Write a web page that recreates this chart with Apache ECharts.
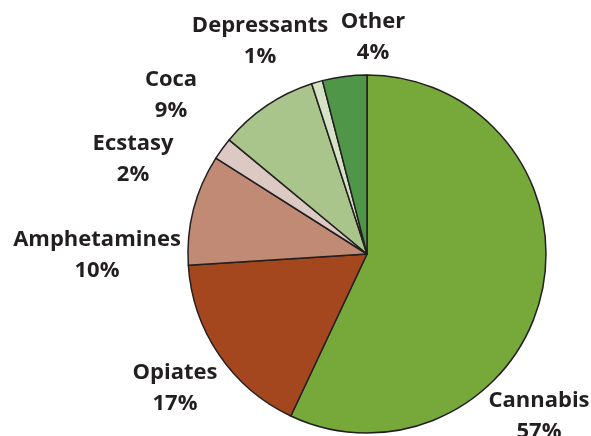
<!DOCTYPE html>
<html><head><meta charset="utf-8">
<script src="https://cdn.jsdelivr.net/npm/echarts@6/dist/echarts.min.js"></script>
<style>html,body{margin:0;padding:0;background:#fff}#c{width:591px;height:436px}</style>
</head><body><div id="c"></div>
<script>
const categories = ['Cannabis','Opiates','Amphetamines','Ecstasy','Coca','Depressants','Other'];
const values = [57,17,10,2,9,1,4];
const colors = ['#76a83a','#a4461e','#c08a74','#dcc9c3','#a9c58b','#d6e2c6','#4f9649'];
// label centre positions (px)
const labelPos = [[539,416],[175,388],[97,255],[133,159],[171,95],[260,41],[373,37]];

const chart = echarts.init(document.getElementById('c'), null, {renderer:'canvas'});
chart.setOption({
  animation:false,
  series:[{
    type:'pie',
    center:[367,254],
    radius:[0,179],
    startAngle:90,
    clockwise:true,
    avoidLabelOverlap:false,
    itemStyle:{borderColor:'#231f20',borderWidth:1.5},
    label:{
      show:true,position:'outside',
      formatter:p=>p.name+'\n'+p.value+'%',
      fontFamily:'Open Sans',fontWeight:'bold',fontSize:22,lineHeight:31,
      color:'#231f20',align:'center'
    },
    labelLine:{show:false},
    labelLayout:function(p){
      const pos = labelPos[p.dataIndex];
      return {x:pos[0],y:pos[1],align:'center',verticalAlign:'middle'};
    },
    data:categories.map((c,i)=>({name:c,value:values[i],itemStyle:{color:colors[i]}}))
  }]
});
</script></body></html>
